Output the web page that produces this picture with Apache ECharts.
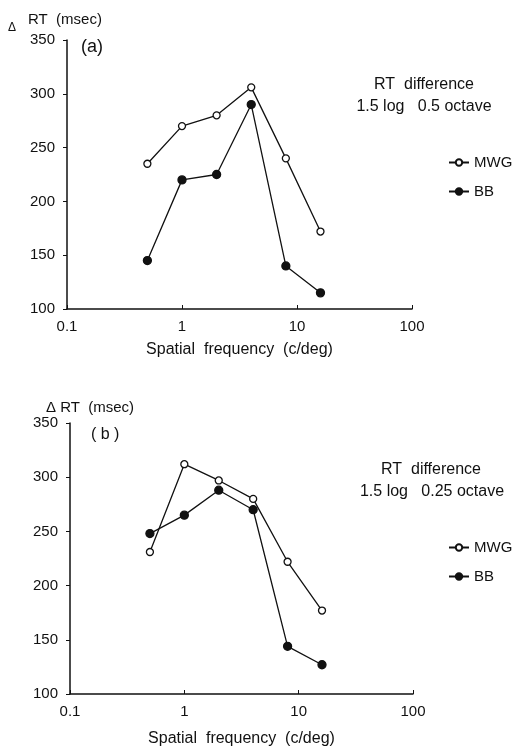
<!DOCTYPE html>
<html>
<head>
<meta charset="utf-8">
<script src="https://cdn.jsdelivr.net/npm/echarts@6/dist/echarts.min.js"></script>
<style>
html, body { margin: 0; padding: 0; background: #fff; }
#rtchart { width: 513px; height: 748px; }
</style>
</head>
<body>
<div id="rtchart"></div>
<script>
// spatial frequencies (c/deg)
const freqs = [0.5, 1, 2, 4, 8, 16];
// panel (a): 1.5 log, 0.5 octave
const mwgA = [235, 270, 280, 306, 240, 172];
const bbA = [145, 220, 225, 290, 140, 115];
// panel (b): 1.5 log, 0.25 octave
const mwgB = [231, 312, 297, 280, 222, 177];
const bbB = [248, 265, 288, 270, 144, 127];
const xTicks = [0.1, 1, 10, 100];
const yTicks = [100, 150, 200, 250, 300, 350];

const font = "'Liberation Sans', Arial, sans-serif";
const pair = (xs, ys) => xs.map((v, i) => [v, ys[i]]);

let myChart = echarts.init(document.getElementById("rtchart"));

const xAxisOf = (idx, gap) => ({
    type: 'log',
    logBase: 10,
    gridIndex: idx,
    min: xTicks[0],
    max: xTicks[xTicks.length - 1],
    name: 'Spatial  frequency  (c/deg)',
    nameLocation: 'middle',
    nameGap: gap,
    nameTextStyle: { color: '#111', fontSize: 16, fontFamily: font },
    axisLine: { lineStyle: { color: '#111', width: 1.5 } },
    axisTick: { inside: true, length: 4, lineStyle: { color: '#111' } },
    minorTick: { show: false },
    splitLine: { show: false },
    axisLabel: {
        color: '#111', fontSize: 15, fontFamily: font, margin: 10,
        formatter: (v) => String(+v.toPrecision(3))
    }
});

const yAxisOf = (idx) => ({
    type: 'value',
    gridIndex: idx,
    min: yTicks[0],
    max: yTicks[yTicks.length - 1],
    interval: 50,
    axisLine: { show: true, lineStyle: { color: '#111', width: 1.5 } },
    axisTick: { show: true, length: 4, lineStyle: { color: '#111' } },
    splitLine: { show: false },
    axisLabel: { color: '#111', fontSize: 15, fontFamily: font, margin: 12 }
});

const seriesOf = (name, data, idx, filled) => ({
    name: name,
    type: 'line',
    xAxisIndex: idx,
    yAxisIndex: idx,
    data: data,
    symbol: 'circle',
    symbolSize: filled ? 8 : 7,
    showAllSymbol: true,
    lineStyle: { color: '#111', width: 1.3 },
    itemStyle: { color: filled ? '#111' : '#fff', borderColor: '#111', borderWidth: 1.3 },
    emphasis: { disabled: true },
    z: filled ? 3 : 4
});

const txt = (left, top, text, size, align) => ({
    type: 'text', x: left, y: top,
    style: { text: text, fill: '#111', font: size + 'px ' + font, align: align || 'left', verticalAlign: 'middle' }
});

const legendOf = (top) => ({
    orient: 'vertical',
    left: 443,
    top: top,
    itemWidth: 20,
    itemHeight: 8,
    itemGap: 14,
    textStyle: { color: '#111', fontSize: 15, fontFamily: font },
    data: ['MWG', 'BB']
});

let option = {
    animation: false,
    grid: [
        { left: 67, top: 40, width: 345, height: 269 },
        { left: 70, top: 423, width: 343, height: 274 }
    ],
    xAxis: [xAxisOf(0, 33), xAxisOf(1, 37)],
    yAxis: [yAxisOf(0), yAxisOf(1)],
    legend: [legendOf(150), legendOf(535)],
    series: [
        seriesOf('MWG', pair(freqs, mwgA), 0, false),
        seriesOf('BB', pair(freqs, bbA), 0, true),
        seriesOf('MWG', pair(freqs, mwgB), 1, false),
        seriesOf('BB', pair(freqs, bbB), 1, true)
    ],
    graphic: [
        txt(8, 28, 'Δ', 12),
        txt(28, 20, 'RT  (msec)', 15),
        txt(81, 47, '(a)', 18),
        txt(424, 85, 'RT  difference', 16, 'center'),
        txt(424, 107, '1.5 log   0.5 octave', 16, 'center'),
        txt(46, 408, 'Δ RT  (msec)', 15),
        txt(91, 435, '( b )', 16),
        txt(431, 470, 'RT  difference', 16, 'center'),
        txt(432, 492, '1.5 log   0.25 octave', 16, 'center')
    ]
};
option && myChart.setOption(option);
</script>
</body>
</html>
